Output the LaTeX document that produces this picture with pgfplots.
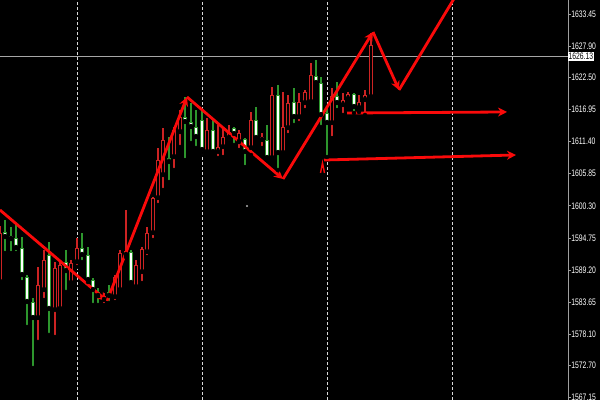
\documentclass[border=0pt]{standalone}
\usepackage{pgfplots}
\pgfplotsset{compat=1.18}
\usepackage{pgfplotstable}
\usetikzlibrary{arrows.meta}
\usepackage{fontspec}
\setmainfont{Liberation Sans}
\definecolor{wickred}{RGB}{205,35,35}
\definecolor{wickgreen}{RGB}{45,150,45}
\definecolor{zigred}{RGB}{250,10,10}

% up candles (red outline, black body): x  low  high  bodylow  bodyhigh
\pgfplotstableread{
x lo hi blo bhi
0 1586.62 1596.82 1587.14 1595.61
38 1576.78 1589.74 1580.92 1586.62
44 1584.03 1592.67 1585.76 1590.94
55 1577.64 1590.60 1582.31 1589.56
60 1581.96 1590.94 1582.48 1590.08
71 1586.62 1590.94 1586.97 1590.43
77 1589.74 1594.75 1590.60 1593.02
104 1583.17 1585.24 1584.03 1584.72
115 1583.69 1588.35 1584.55 1588.01
120 1585.42 1592.67 1585.76 1592.15
126 1591.46 1599.58 1591.81 1592.50
136 1585.76 1590.94 1586.28 1590.08
142 1586.97 1593.19 1588.87 1592.85
147 1591.46 1596.65 1592.33 1595.61
153 1594.40 1601.83 1595.61 1601.66
158 1600.45 1610.30 1601.66 1608.22
163 1603.04 1613.75 1605.63 1611.68
174 1606.50 1613.93 1608.74 1613.41
180 1610.47 1616.86 1613.06 1615.65
207 1609.09 1615.48 1609.61 1613.41
218 1608.57 1614.27 1609.61 1610.47
223 1608.74 1613.75 1610.47 1612.20
229 1611.33 1614.27 1612.02 1613.06
239 1609.95 1613.41 1611.33 1612.89
251 1609.09 1616.52 1610.30 1615.14
262 1610.30 1612.89 1611.68 1612.20
272 1608.57 1620.84 1608.57 1619.45
283 1609.09 1619.97 1609.43 1613.93
288 1612.54 1619.45 1613.75 1618.07
299 1614.62 1619.80 1615.65 1618.25
305 1616.86 1620.32 1618.07 1619.97
311 1617.73 1624.98 1618.25 1622.91
332 1612.02 1620.66 1614.62 1619.28
343 1616.00 1619.80 1617.73 1618.59
348 1618.59 1619.97 1618.76 1619.63
359 1616.52 1619.45 1617.21 1618.25
365 1616.00 1620.32 1618.59 1619.45
371 1618.94 1630.17 1619.11 1628.09
}\upc

% down candles (green outline, white body)
\pgfplotstableread{
x lo hi blo bhi
5 1592.15 1597.86 1594.92 1595.78
11 1592.15 1596.65 1594.57 1595.09
16 1592.15 1596.99 1593.02 1594.75
22 1587.14 1594.92 1588.35 1593.02
27 1579.37 1588.35 1583.69 1588.01
33 1572.28 1584.38 1580.92 1583.69
49 1577.99 1594.05 1582.48 1591.81
66 1585.42 1592.67 1589.04 1590.60
82 1590.60 1595.61 1591.81 1593.02
88 1587.14 1593.19 1587.49 1591.81
93 1583.17 1587.83 1585.76 1587.49
98 1583.17 1586.11 1584.72 1585.42
109 1583.52 1586.62 1584.72 1585.42
131 1586.62 1592.67 1586.97 1592.33
169 1604.42 1612.20 1607.88 1608.57
185 1608.22 1619.11 1614.79 1615.65
191 1611.16 1618.07 1613.93 1614.79
196 1610.30 1616.86 1612.20 1613.93
202 1609.43 1616.86 1609.95 1615.14
213 1609.09 1615.14 1609.61 1613.41
234 1610.82 1613.93 1612.72 1613.75
245 1607.01 1612.02 1609.61 1611.85
256 1611.68 1617.38 1612.02 1615.14
267 1608.22 1614.27 1608.57 1611.68
278 1606.50 1621.18 1609.43 1619.45
294 1614.27 1620.66 1615.65 1618.25
316 1621.18 1625.50 1621.53 1622.74
321 1613.93 1622.57 1616.00 1621.53
327 1608.74 1617.38 1614.62 1616.34
337 1616.86 1621.70 1618.07 1619.28
354 1616.34 1619.80 1617.38 1619.63
}\downc

\begin{document}
\begin{tikzpicture}
\fill[black] (0,0) rectangle (600bp,400bp);
\begin{axis}[
  scale only axis, width=568bp, height=400bp,
  xmin=0, xmax=568, ymin=1566.75, ymax=1635.87,
  axis x line=none, axis y line=right,
  y axis line style={-, draw=gray!75, line width=0.9bp},
  xtick=\empty,
  scaled y ticks=false,
  ytick={1567.15,1572.70,1578.10,1583.65,1589.20,1594.75,1600.30,1605.85,1611.40,1616.95,1622.50,1627.90,1633.45},
  /pgf/number format/fixed, /pgf/number format/fixed zerofill,
  /pgf/number format/precision=2, /pgf/number format/1000 sep={},
  /pgf/number format/assume math mode=true,
  tick align=outside, major tick length=2.5bp,
  ytick style={draw=gray!75, line width=0.8bp},
  yticklabel style={text=white, font=\fontsize{9.5}{10}\selectfont, xscale=0.72, inner sep=1bp},
  extra y ticks={1626.13},
  extra y tick style={major tick length=0pt, yticklabel style={fill=white, text=black, inner sep=1bp, xshift=-0.5bp}},
]
% vertical dashed grid
\pgfplotsinvokeforeach{77,202,327,452}{
  \addplot[white!85!black, line width=0.9bp, dash pattern=on 3bp off 2bp] coordinates {(#1,1566.75) (#1,1635.87)};
}
% current price line
\addplot[gray!70, line width=0.9bp] coordinates {(0,1626.13) (568,1626.13)};

% wicks
\addplot[only marks, mark=none, error bars/.cd, y dir=plus, y explicit, error mark=none,
  error bar style={line width=1.2bp, color=wickred}]
  table[x=x, y=lo, y error plus expr={\thisrow{hi}-\thisrow{lo}}] {\upc};
\addplot[only marks, mark=none, error bars/.cd, y dir=plus, y explicit, error mark=none,
  error bar style={line width=1.2bp, color=wickgreen}]
  table[x=x, y=lo, y error plus expr={\thisrow{hi}-\thisrow{lo}}] {\downc};
% bodies: outline
\addplot[only marks, mark=none, error bars/.cd, y dir=plus, y explicit, error mark=none,
  error bar style={line width=4.4bp, color=wickred}]
  table[x=x, y=blo, y error plus expr={\thisrow{bhi}-\thisrow{blo}}] {\upc};
\addplot[only marks, mark=none, error bars/.cd, y dir=plus, y explicit, error mark=none,
  error bar style={line width=4.4bp, color=wickgreen}]
  table[x=x, y=blo, y error plus expr={\thisrow{bhi}-\thisrow{blo}}] {\downc};
% bodies: inside
\addplot[only marks, mark=none, error bars/.cd, y dir=plus, y explicit, error mark=none,
  error bar style={line width=2.2bp, color=black}]
  table[x=x, y expr={\thisrow{blo}+0.17}, y error plus expr={max(\thisrow{bhi}-\thisrow{blo}-0.34,0.02)}] {\upc};
\addplot[only marks, mark=none, error bars/.cd, y dir=plus, y explicit, error mark=none,
  error bar style={line width=2.8bp, color=white}]
  table[x=x, y expr={\thisrow{blo}+0.17}, y error plus expr={max(\thisrow{bhi}-\thisrow{blo}-0.34,0.02)}] {\downc};

% stray tick mark
\addplot[only marks, mark=*, mark size=0.8bp, gray!80] coordinates {(247,1600.28)};

% hand-drawn red arrows
\pgfplotsset{zz/.style={zigred, line width=2.8bp, -{Stealth[length=9bp,width=9bp]}}}
\addplot[zz] coordinates {(0,1599.58) (107,1583.86)};
\addplot[zz] coordinates {(107,1583.86) (187,1619.11)};
\addplot[zz] coordinates {(187,1619.11) (283,1604.94)};
\addplot[zz] coordinates {(283,1604.94) (373,1630.34)};
\addplot[zz] coordinates {(373,1630.34) (399,1620.32)};
\addplot[zigred, line width=2.8bp] coordinates {(399,1620.32) (455,1636.39)};
\addplot[zz] coordinates {(347,1616.34) (507,1616.52)};
\addplot[zz] coordinates {(324,1608.22) (516,1609.09)};
\addplot[zigred, line width=1.4bp] coordinates {(320.5,1605.98) (322.5,1607.71) (324.5,1605.98)};
\end{axis}
\pgfresetboundingbox
\path[use as bounding box] (0,0) rectangle (600bp,400bp);
\end{tikzpicture}
\end{document}
